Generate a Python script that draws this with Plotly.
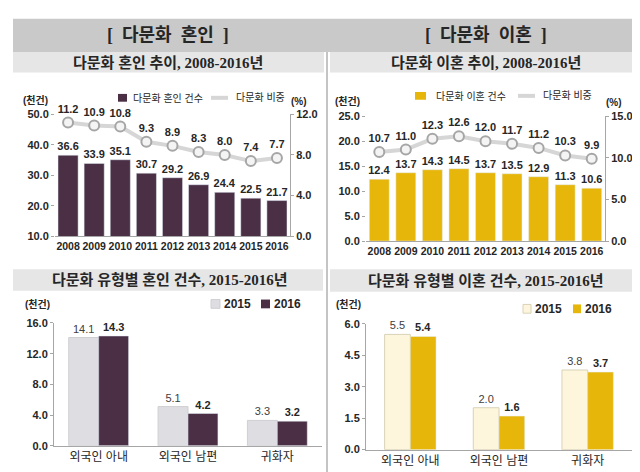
import plotly.graph_objects as go

years = ["2008", "2009", "2010", "2011", "2012", "2013", "2014", "2015", "2016"]
marriage_counts = [36.6, 33.9, 35.1, 30.7, 29.2, 26.9, 24.4, 22.5, 21.7]
marriage_share = [11.2, 10.9, 10.8, 9.3, 8.9, 8.3, 8.0, 7.4, 7.7]
divorce_counts = [12.4, 13.7, 14.3, 14.5, 13.7, 13.5, 12.9, 11.3, 10.6]
divorce_share = [10.7, 11.0, 12.3, 12.6, 12.0, 11.7, 11.2, 10.3, 9.9]

types = ["외국인 아내", "외국인 남편", "귀화자"]
marriage_2015 = [14.1, 5.1, 3.3]
marriage_2016 = [14.3, 4.2, 3.2]
divorce_2015 = [5.5, 2.0, 3.8]
divorce_2016 = [5.4, 1.6, 3.7]

W, H = 640, 472
FONT = "Liberation Sans, Noto Sans CJK KR"
SERIF = "Liberation Serif, Noto Sans CJK KR"
PURPLE = "#4a2f45"
YELLOW = "#e6b70a"
GRAY15 = "#dedee2"
CREAM = "#fdf6dc"
LINEG = "#d6d6d6"
AX = "#a6a6a6"
TXT = "#262626"
NB = "\u00a0"


def px(x):
    return x / W


def py(y):
    return (H - y) / H


fig = go.Figure()

# ---- top-left: marriage trend
fig.add_trace(go.Bar(x=years, y=marriage_counts, name="다문화 혼인 건수", marker_color=PURPLE,
                     width=0.77, texttemplate="%{y:.1f}", textposition="outside", constraintext="none",
                     cliponaxis=False, textfont=dict(size=11, color=TXT, weight="bold"),
                     xaxis="x", yaxis="y", showlegend=False))
fig.add_trace(go.Scatter(x=years, y=marriage_share, mode="lines+markers+text", name="다문화 비중",
                         line=dict(color=LINEG, width=4),
                         marker=dict(size=10, color="#f4f4f4", line=dict(color=AX, width=2)),
                         texttemplate="%{y:.1f}", textposition="top center", cliponaxis=False,
                         textfont=dict(size=11, color=TXT, weight="bold"),
                         xaxis="x", yaxis="y2", showlegend=False))

# ---- top-right: divorce trend
fig.add_trace(go.Bar(x=years, y=divorce_counts, name="다문화 이혼 건수", marker_color=YELLOW,
                     width=0.75, texttemplate="%{y:.1f}", textposition="outside", constraintext="none",
                     cliponaxis=False, textfont=dict(size=11, color=TXT, weight="bold"),
                     xaxis="x3", yaxis="y3", showlegend=False))
fig.add_trace(go.Scatter(x=years, y=divorce_share, mode="lines+markers+text", name="다문화 비중",
                         line=dict(color=LINEG, width=4),
                         marker=dict(size=10, color="#f4f4f4", line=dict(color=AX, width=2)),
                         texttemplate="%{y:.1f}", textposition="top center", cliponaxis=False,
                         textfont=dict(size=11, color=TXT, weight="bold"),
                         xaxis="x3", yaxis="y4", showlegend=False))

# ---- bottom-left: marriage by type
bw5 = 0.335
fig.add_trace(go.Bar(x=types, y=marriage_2015, name="2015", marker=dict(color=GRAY15, line=dict(color="#cfcfd3", width=1)),
                     width=bw5, offset=-bw5, texttemplate="%{y:.1f}", textposition="outside",
                     constraintext="none", cliponaxis=False, textfont=dict(size=11, color="#404040"),
                     xaxis="x5", yaxis="y5", showlegend=False))
fig.add_trace(go.Bar(x=types, y=marriage_2016, name="2016", marker_color=PURPLE,
                     width=bw5, offset=0, texttemplate="%{y:.1f}", textposition="outside",
                     constraintext="none", cliponaxis=False, textfont=dict(size=11, color=TXT, weight="bold"),
                     xaxis="x5", yaxis="y5", showlegend=False))

# ---- bottom-right: divorce by type
bw6 = 0.29
fig.add_trace(go.Bar(x=types, y=divorce_2015, name="2015", marker=dict(color=CREAM, line=dict(color="#d8d2b8", width=1)),
                     width=bw6, offset=-bw6, texttemplate="%{y:.1f}", textposition="outside",
                     constraintext="none", cliponaxis=False, textfont=dict(size=11, color="#404040"),
                     xaxis="x6", yaxis="y6", showlegend=False))
fig.add_trace(go.Bar(x=types, y=divorce_2016, name="2016", marker_color=YELLOW,
                     width=bw6, offset=0, texttemplate="%{y:.1f}", textposition="outside",
                     constraintext="none", cliponaxis=False, textfont=dict(size=11, color=TXT, weight="bold"),
                     xaxis="x6", yaxis="y6", showlegend=False))

tickf = dict(size=11, color=TXT, family=FONT, weight="bold")
yearf = dict(size=10.5, color=TXT, family=FONT, weight="bold")
catf = dict(size=12, color=TXT, family=FONT)


def yax(domain, rng, dtick, side="left", overlay=None, anchor=None, showline=False):
    d = dict(domain=domain, range=rng, dtick=dtick, tick0=0, tickformat=".1f", side=side,
             showgrid=False, zeroline=False, showline=showline, linecolor=AX, linewidth=1,
             ticks="outside", ticklen=3, tickcolor=AX, tickfont=tickf, fixedrange=True)
    if overlay:
        d["overlaying"] = overlay
    if anchor:
        d["anchor"] = anchor
    return d


def xax(domain, anchor, rng, font):
    return dict(domain=domain, anchor=anchor, range=rng, type="category", showgrid=False,
                showline=True, linecolor=AX, linewidth=1, ticks="", tickfont=font, tickangle=0,
                fixedrange=True)


fig.update_layout(
    width=W, height=H, margin=dict(l=0, r=0, t=0, b=0),
    paper_bgcolor="white", plot_bgcolor="rgba(0,0,0,0)",
    barmode="overlay", font=dict(family=FONT, color=TXT), showlegend=False,
    xaxis=xax([px(47), px(282)], "y", [-0.5, 8.5], yearf),
    yaxis=yax([py(228), py(103)], [10, 50], 10, showline=False),
    yaxis2=yax([py(228), py(103)], [0, 12], 4, side="right", overlay="y", anchor="x", showline=True),
    xaxis3=xax([px(358), px(597)], "y3", [-0.5, 8.5], yearf),
    yaxis3=yax([py(233), py(105)], [0, 25], 5, anchor="x3"),
    yaxis4=yax([py(233), py(105)], [0, 15], 5, side="right", overlay="y3", anchor="x3", showline=True),
    xaxis5=xax([px(46), px(314)], "y5", [-0.5, 2.5], catf),
    yaxis5=yax([py(443), py(317)], [0, 16], 4, anchor="x5", showline=True),
    xaxis6=xax([px(358), px(624)], "y6", [-0.5, 2.5], catf),
    yaxis6=yax([py(447), py(318)], [0, 6], 1.5, anchor="x6", showline=True),
)


def rect(x0, y0, x1, y1, fill, line=None):
    return dict(type="rect", xref="paper", yref="paper", x0=px(x0), x1=px(x1), y0=py(y1), y1=py(y0),
                fillcolor=fill, line=dict(width=1 if line else 0, color=line or fill), layer="below")


shapes = [
    rect(5, 5, 635, 39, "#c9c9c9"),
    rect(5, 39, 316, 60, "#e6e6e6"),
    rect(322, 39, 635, 60, "#e6e6e6"),
    rect(5, 262, 315, 284, "#e6e6e6"),
    rect(322, 262, 635, 285, "#e6e6e6"),
    dict(type="line", xref="paper", yref="paper", x0=px(319), x1=px(319), y0=py(472), y1=py(39),
         line=dict(color="#c4c4c4", width=2), layer="below"),
    # legend keys
    rect(110, 82, 119, 90, PURPLE),
    dict(type="line", xref="paper", yref="paper", x0=px(203), x1=px(220), y0=py(86), y1=py(86),
         line=dict(color=LINEG, width=4)),
    rect(407, 80, 418, 88, YELLOW),
    dict(type="line", xref="paper", yref="paper", x0=px(510), x1=px(527), y0=py(84), y1=py(84),
         line=dict(color=LINEG, width=4)),
    rect(203, 293, 212, 302, GRAY15, "#cfcfd3"),
    rect(253, 293, 262, 302, PURPLE),
    rect(515, 298, 523, 307, CREAM, "#d8d2b8"),
    rect(565, 298, 573, 307, YELLOW),
]
fig.update_layout(shapes=shapes)


def ann(x, y, text, size, weight="normal", family=FONT, color=TXT, xanchor="center"):
    return dict(x=px(x), y=py(y), xref="paper", yref="paper", text=text, showarrow=False,
                xanchor=xanchor, yanchor="middle",
                font=dict(size=size, family=family, color=color, weight=weight))


annotations = [
    ann(160, 22, f"[{NB}{NB}다문화{NB}{NB}혼인{NB}{NB}]", 18, "bold", SERIF),
    ann(478, 22, f"[{NB}{NB}다문화{NB}{NB}이혼{NB}{NB}]", 18, "bold", SERIF),
    ann(160, 50, "다문화 혼인 추이, 2008-2016년", 15, "bold", SERIF),
    ann(478, 50, "다문화 이혼 추이, 2008-2016년", 15, "bold", SERIF),
    ann(162, 273, "다문화 유형별 혼인 건수, 2015-2016년", 15, "bold", SERIF),
    ann(478, 274, "다문화 유형별 이혼 건수, 2015-2016년", 15, "bold", SERIF),
    ann(27, 88, "(천건)", 10, "bold"),
    ann(291, 90, "(%)", 10, "bold"),
    ann(339, 89, "(천건)", 10, "bold"),
    ann(606, 91, "(%)", 10, "bold"),
    ann(29, 298, "(천건)", 10, "bold"),
    ann(340, 298, "(천건)", 10, "bold"),
    # legend labels
    ann(123, 86, "다문화 혼인 건수", 10, xanchor="left"),
    ann(226, 86, "다문화 비중", 10, xanchor="left"),
    ann(426, 84, "다문화 이혼 건수", 10, xanchor="left"),
    ann(533, 84, "다문화 비중", 10, xanchor="left"),
    ann(214, 298, "2015", 12, "bold", xanchor="left"),
    ann(264, 298, "2016", 12, "bold", xanchor="left"),
    ann(525, 303, "2015", 12, "bold", xanchor="left"),
    ann(575, 303, "2016", 12, "bold", xanchor="left"),
]
fig.update_layout(annotations=annotations)

fig.write_html("out.html")
